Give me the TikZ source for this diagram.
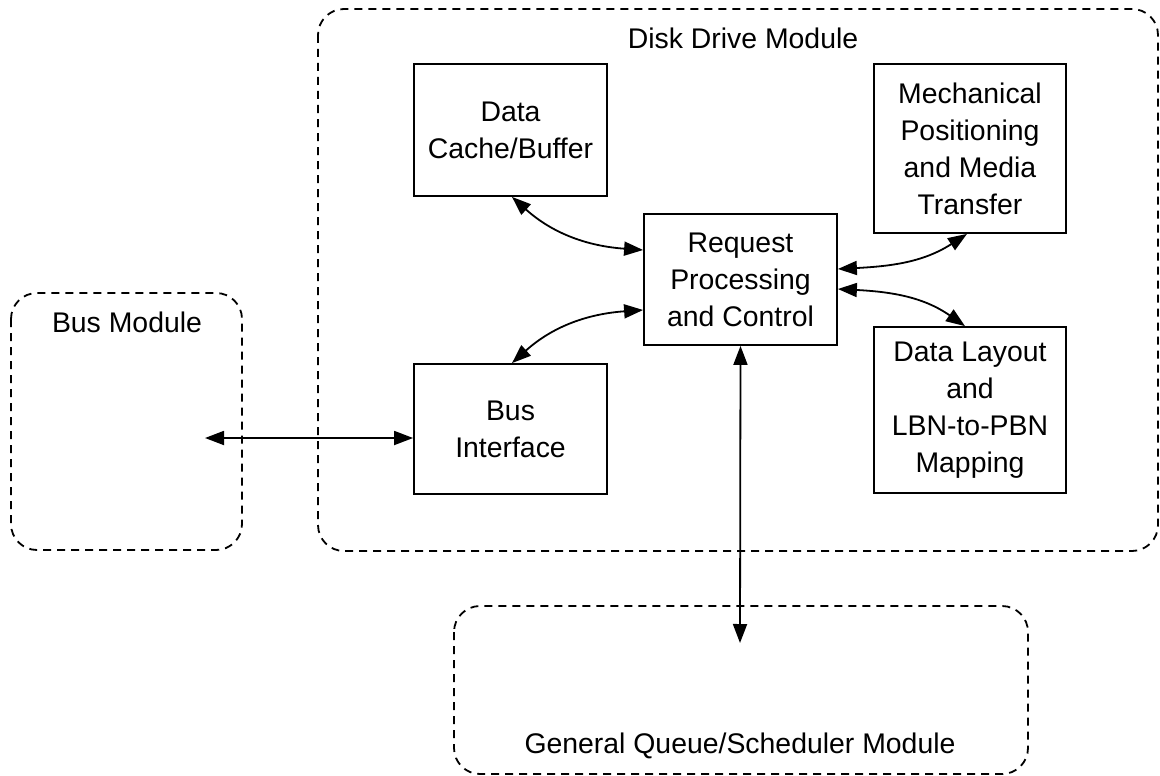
\documentclass[tikz,border=0pt]{standalone}
\usepackage{fontspec}
\setmainfont{Liberation Sans}
\usetikzlibrary{arrows.meta}
\begin{document}
\begin{tikzpicture}[x=1pt,y=-1pt,
  module/.style={draw,dash pattern=on 8pt off 6pt,line width=1.8pt,rounded corners=26pt},
  blk/.style={draw,line width=1.8pt,align=center,font=\fontsize{28.4}{37}\selectfont,inner sep=0pt},
  lbl/.style={font=\fontsize{28.4}{34}\selectfont,inner sep=0pt},
  conn/.style={line width=1.8pt,{Triangle[length=19pt,width=14pt]}-{Triangle[length=19pt,width=14pt]}}]
\useasboundingbox (0,0) rectangle (1160,776);
% modules
\draw[module] (318,9) rectangle (1158,551);
\node[lbl] (ddm) at (743,38) {Disk Drive Module};
\draw[module] (11,293) rectangle (242,550);
\node[lbl] (bm) at (127,322) {Bus Module};
\draw[module] (454,606) rectangle (1028,774);
\node[lbl] (gq) at (740,746) {General Queue/Scheduler Module};
% blocks
\node[blk,minimum width=193pt,minimum height=132pt] (cache) at (510.5,130) {Data\\Cache/Buffer};
\node[blk,minimum width=192pt,minimum height=169pt] (mech) at (970,148.5) {Mechanical\\Positioning\\and Media\\Transfer};
\node[blk,minimum width=193pt,minimum height=131pt] (req) at (740.5,279.5) {Request\\Processing\\and Control};
\node[blk,minimum width=193pt,minimum height=130pt] (bi) at (510.5,429) {Bus\\Interface};
\node[blk,minimum width=192pt,minimum height=166pt] (dl) at (970,410) {Data Layout\\and\\LBN-to-PBN\\Mapping};
% connector end points
\coordinate (busend) at (205,438);
\coordinate (gqend) at (740,643);
% connectors
\draw[conn] ([xshift=1.5pt]cache.south) to[out=-42,in=176] ([yshift=29.5pt]req.west);
\draw[conn] ([yshift=-30.5pt]req.west) to[out=184,in=42] ([xshift=1.5pt]bi.north);
\draw[conn] ([yshift=10.5pt]req.east) to[out=3,in=213] ([xshift=-3pt]mech.south);
\draw[conn] ([yshift=-9.5pt]req.east) to[out=-3,in=145] ([xshift=-5pt]dl.north);
\draw[conn] (req.south) -- (gqend);
\draw[conn] (bi.west |- busend) -- (busend);
\end{tikzpicture}
\end{document}
